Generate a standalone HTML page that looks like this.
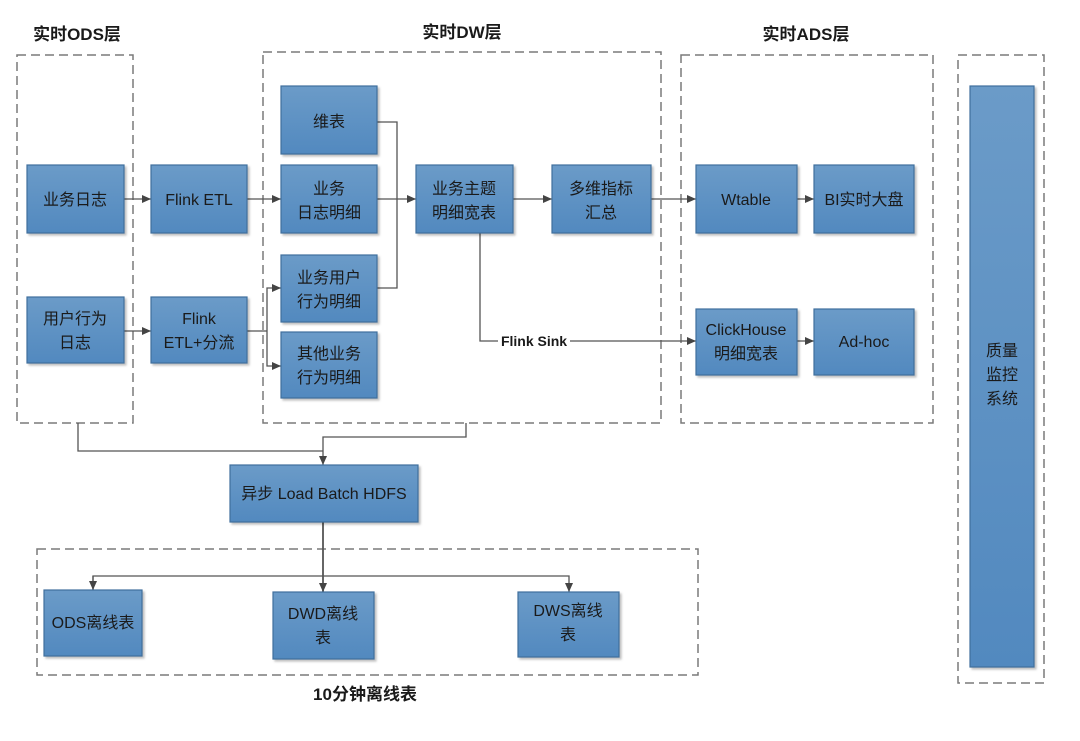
<!DOCTYPE html>
<html><head><meta charset="utf-8"><style>
html,body{margin:0;padding:0;background:#fff;}
svg text{font-family:"Liberation Sans","Noto Sans CJK SC",sans-serif;fill:#1a1a1a;}
</style></head><body>
<svg width="1080" height="736" viewBox="0 0 1080 736" xmlns="http://www.w3.org/2000/svg">
<defs>
<linearGradient id="g" x1="0" y1="0" x2="0" y2="1"><stop offset="0" stop-color="#6b9bc8"/><stop offset="1" stop-color="#5289bf"/></linearGradient>
<marker id="a" markerWidth="10" markerHeight="10" refX="9" refY="5" orient="auto" markerUnits="userSpaceOnUse"><path d="M0,1 L9,5 L0,9 z" fill="#444"/></marker>
</defs>
<g fill="none" stroke="#7a7a7a" stroke-width="1.5" stroke-dasharray="9,5">
<rect x="17" y="55" width="116" height="368"/>
<rect x="263" y="52" width="398" height="371"/>
<rect x="681" y="55" width="252" height="368"/>
<rect x="958" y="55" width="86" height="628"/>
<rect x="37" y="549" width="661" height="126"/>
</g>
<g font-size="17" font-weight="bold" text-anchor="middle">
<text x="77" y="40">实时ODS层</text>
<text x="462" y="38">实时DW层</text>
<text x="806" y="40">实时ADS层</text>
<text x="365" y="700">10分钟离线表</text>
</g>
<g stroke="#555" stroke-width="1.3" fill="none">
<line x1="124" y1="199" x2="151" y2="199" marker-end="url(#a)"/>
<line x1="247" y1="199" x2="281" y2="199" marker-end="url(#a)"/>
<line x1="377" y1="199" x2="416" y2="199" marker-end="url(#a)"/>
<polyline points="377,122 397,122 397,288 377,288"/>
<line x1="513" y1="199" x2="552" y2="199" marker-end="url(#a)"/>
<line x1="651" y1="199" x2="696" y2="199" marker-end="url(#a)"/>
<line x1="797" y1="199" x2="814" y2="199" marker-end="url(#a)"/>
<line x1="124" y1="331" x2="151" y2="331" marker-end="url(#a)"/>
<polyline points="247,331 267,331"/>
<polyline points="267,331 267,288 281,288" marker-end="url(#a)"/>
<polyline points="267,331 267,366 281,366" marker-end="url(#a)"/>
<polyline points="480,233 480,341 696,341" marker-end="url(#a)"/>
<line x1="797" y1="341" x2="814" y2="341" marker-end="url(#a)"/>
<polyline points="78,423 78,451 323,451"/>
<polyline points="466,423 466,437 323,437 323,465" marker-end="url(#a)"/>
<line x1="323" y1="522" x2="323" y2="592" marker-end="url(#a)" stroke-width="1.8"/>
<polyline points="93,590 93,576 569,576 569,592" marker-end="url(#a)"/>
<line x1="93" y1="576" x2="93" y2="590" marker-end="url(#a)"/>
</g>
<rect x="498" y="332" width="72" height="18" fill="#fff"/>
<text x="534" y="346" font-size="14" font-weight="bold" text-anchor="middle">Flink Sink</text>
<g fill="url(#g)" stroke="#3f6f9c" stroke-width="1.2" style="filter:drop-shadow(2px 2px 1px rgba(0,0,0,0.25))">
<rect x="27" y="165" width="97" height="68"/>
<rect x="151" y="165" width="96" height="68"/>
<rect x="281" y="86" width="96" height="68"/>
<rect x="281" y="165" width="96" height="68"/>
<rect x="281" y="255" width="96" height="67"/>
<rect x="281" y="332" width="96" height="66"/>
<rect x="27" y="297" width="97" height="66"/>
<rect x="151" y="297" width="96" height="66"/>
<rect x="416" y="165" width="97" height="68"/>
<rect x="552" y="165" width="99" height="68"/>
<rect x="696" y="165" width="101" height="68"/>
<rect x="814" y="165" width="100" height="68"/>
<rect x="696" y="309" width="101" height="66"/>
<rect x="814" y="309" width="100" height="66"/>
<rect x="230" y="465" width="188" height="57"/>
<rect x="44" y="590" width="98" height="66"/>
<rect x="273" y="592" width="101" height="67"/>
<rect x="518" y="592" width="101" height="65"/>
<rect x="970" y="86" width="64" height="581"/>
</g>
<g font-size="16" text-anchor="middle">
<text x="75" y="205">业务日志</text>
<text x="199" y="205">Flink ETL</text>
<text x="329" y="127">维表</text>
<text x="329" y="194">业务</text><text x="329" y="218">日志明细</text>
<text x="329" y="283">业务用户</text><text x="329" y="307">行为明细</text>
<text x="329" y="359">其他业务</text><text x="329" y="383">行为明细</text>
<text x="75" y="324">用户行为</text><text x="75" y="348">日志</text>
<text x="199" y="324">Flink</text><text x="199" y="348">ETL+分流</text>
<text x="464" y="194">业务主题</text><text x="464" y="218">明细宽表</text>
<text x="601" y="194">多维指标</text><text x="601" y="218">汇总</text>
<text x="746" y="205">Wtable</text>
<text x="864" y="205">BI实时大盘</text>
<text x="746" y="335">ClickHouse</text><text x="746" y="359">明细宽表</text>
<text x="864" y="347">Ad-hoc</text>
<text x="324" y="499">异步 Load Batch HDFS</text>
<text x="93" y="628">ODS离线表</text>
<text x="323" y="619">DWD离线</text><text x="323" y="643">表</text>
<text x="568" y="616">DWS离线</text><text x="568" y="640">表</text>
<text x="1002" y="356">质量</text><text x="1002" y="380">监控</text><text x="1002" y="404">系统</text>
</g>
</svg>
</body></html>
